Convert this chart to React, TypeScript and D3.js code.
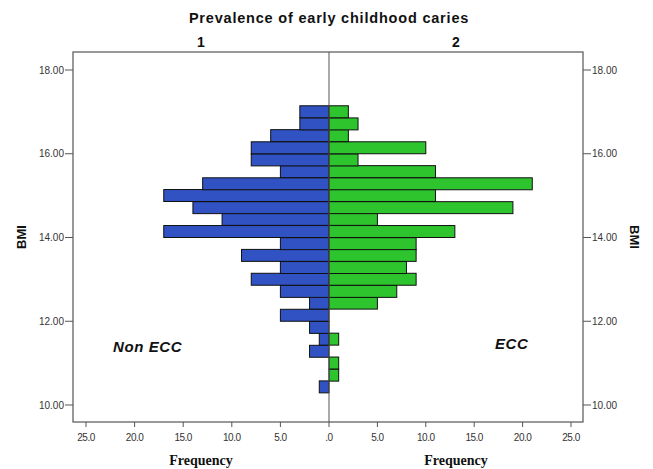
import React from 'react';
import * as d3 from 'd3';

// histogram bins (lower edge of each BMI bin), bottom to top
const bmiBins = [10.29, 10.57, 10.86, 11.14, 11.43, 11.71, 12.0, 12.29, 12.57, 12.86, 13.14, 13.43,
  13.71, 14.0, 14.29, 14.57, 14.86, 15.14, 15.43, 15.71, 16.0, 16.29, 16.57, 16.86];
const binWidth = 0.2857;
const nonEccCounts = [1, 0, 0, 2, 1, 2, 5, 2, 5, 8, 5, 9, 5, 17, 11, 14, 17, 13, 5, 8, 8, 6, 3, 3];
const eccCounts = [0, 1, 1, 0, 1, 0, 0, 5, 7, 9, 8, 9, 9, 13, 5, 19, 11, 21, 11, 3, 10, 2, 3, 2];
const bmiTicks = [10, 12, 14, 16, 18];
const freqTicks = [0, 5, 10, 15, 20, 25];
const panelLabels = ['1', '2'];

const W = 653;
const H = 469;
const left = 73, right = 583, mid = 329, top = 52, bottom = 422;

export default function App() {
  const y = d3.scaleLinear().domain([10, 18]).range([405, 70]);
  const xl = d3.scaleLinear().domain([0, 25]).range([mid, 86]);
  const xr = d3.scaleLinear().domain([0, 25]).range([mid, 571]);
  const fmtY = d3.format('.2f');
  const fmtX = (v: number) => (v === 0 ? '.0' : d3.format('.1f')(v));
  const blue = '#3152c2';
  const green = '#2ec42e';
  const axisCol = '#555';
  const tickFont = 'Liberation Sans, Arial, sans-serif';

  return (
    <svg width={W} height={H} style={{ position: 'absolute', left: 0, top: 0, background: '#fff' }}>
      <text x={mid} y={23} textAnchor="middle" fontFamily={tickFont} fontWeight="bold" fontSize={14.5}
        letterSpacing={0.8} fill="#111">
        Prevalence of early childhood caries
      </text>
      {panelLabels.map((p, i) => (
        <text key={p} x={i === 0 ? (left + mid) / 2 : (mid + right) / 2} y={47} textAnchor="middle"
          fontFamily={tickFont} fontWeight="bold" fontSize={14} fill="#111">{p}</text>
      ))}

      {/* bars */}
      {bmiBins.map((b, i) => (
        <g key={b}>
          {nonEccCounts[i] > 0 && (
            <rect x={xl(nonEccCounts[i])} y={y(b + binWidth)} width={mid - xl(nonEccCounts[i])}
              height={y(b) - y(b + binWidth)} fill={blue} stroke="#111" strokeWidth={1} />
          )}
          {eccCounts[i] > 0 && (
            <rect x={mid} y={y(b + binWidth)} width={xr(eccCounts[i]) - mid}
              height={y(b) - y(b + binWidth)} fill={green} stroke="#111" strokeWidth={1} />
          )}
        </g>
      ))}

      {/* frame */}
      <rect x={left} y={top} width={right - left} height={bottom - top} fill="none" stroke={axisCol} strokeWidth={1.2} />
      <line x1={mid} x2={mid} y1={top} y2={bottom} stroke={axisCol} strokeWidth={1} />

      {/* y axes */}
      {bmiTicks.map(t => (
        <g key={t}>
          <line x1={left - 8} x2={left} y1={y(t)} y2={y(t)} stroke={axisCol} />
          <text x={left - 9} y={y(t) + 3.5} textAnchor="end" fontFamily={tickFont} fontSize={10} fill="#333">{fmtY(t)}</text>
          <line x1={right} x2={right + 8} y1={y(t)} y2={y(t)} stroke={axisCol} />
          <text x={right + 9} y={y(t) + 3.5} textAnchor="start" fontFamily={tickFont} fontSize={10} fill="#333">{fmtY(t)}</text>
        </g>
      ))}
      <text transform={`translate(26,${(top + bottom) / 2}) rotate(-90)`} textAnchor="middle"
        fontFamily={tickFont} fontWeight="bold" fontSize={13} fill="#111">BMI</text>
      <text transform={`translate(630,${(top + bottom) / 2}) rotate(90)`} textAnchor="middle"
        fontFamily={tickFont} fontWeight="bold" fontSize={13} fill="#111">BMI</text>

      {/* x axes */}
      {freqTicks.map(t => (
        <g key={t}>
          <line x1={xl(t)} x2={xl(t)} y1={bottom} y2={bottom + 5} stroke={axisCol} />
          <text x={xl(t)} y={bottom + 19} textAnchor="middle" fontFamily={tickFont} fontSize={10} fill="#333"
            letterSpacing={-0.5}>{fmtX(t)}</text>
          {t > 0 && (
            <>
              <line x1={xr(t)} x2={xr(t)} y1={bottom} y2={bottom + 5} stroke={axisCol} />
              <text x={xr(t)} y={bottom + 19} textAnchor="middle" fontFamily={tickFont} fontSize={10} fill="#333"
                letterSpacing={-0.5}>{fmtX(t)}</text>
            </>
          )}
        </g>
      ))}
      <text x={(left + mid) / 2} y={465} textAnchor="middle" fontFamily="Liberation Serif, Times New Roman, serif"
        fontWeight="bold" fontSize={14} fill="#111">Frequency</text>
      <text x={(mid + right) / 2} y={465} textAnchor="middle" fontFamily="Liberation Serif, Times New Roman, serif"
        fontWeight="bold" fontSize={14} fill="#111">Frequency</text>

      {/* group labels */}
      <text x={113} y={352} fontFamily={tickFont} fontWeight="bold" fontStyle="italic" fontSize={15}
        letterSpacing={0.6} fill="#111">Non ECC</text>
      <text x={495} y={349} fontFamily={tickFont} fontWeight="bold" fontStyle="italic" fontSize={15}
        letterSpacing={0.6} fill="#111">ECC</text>
    </svg>
  );
}
